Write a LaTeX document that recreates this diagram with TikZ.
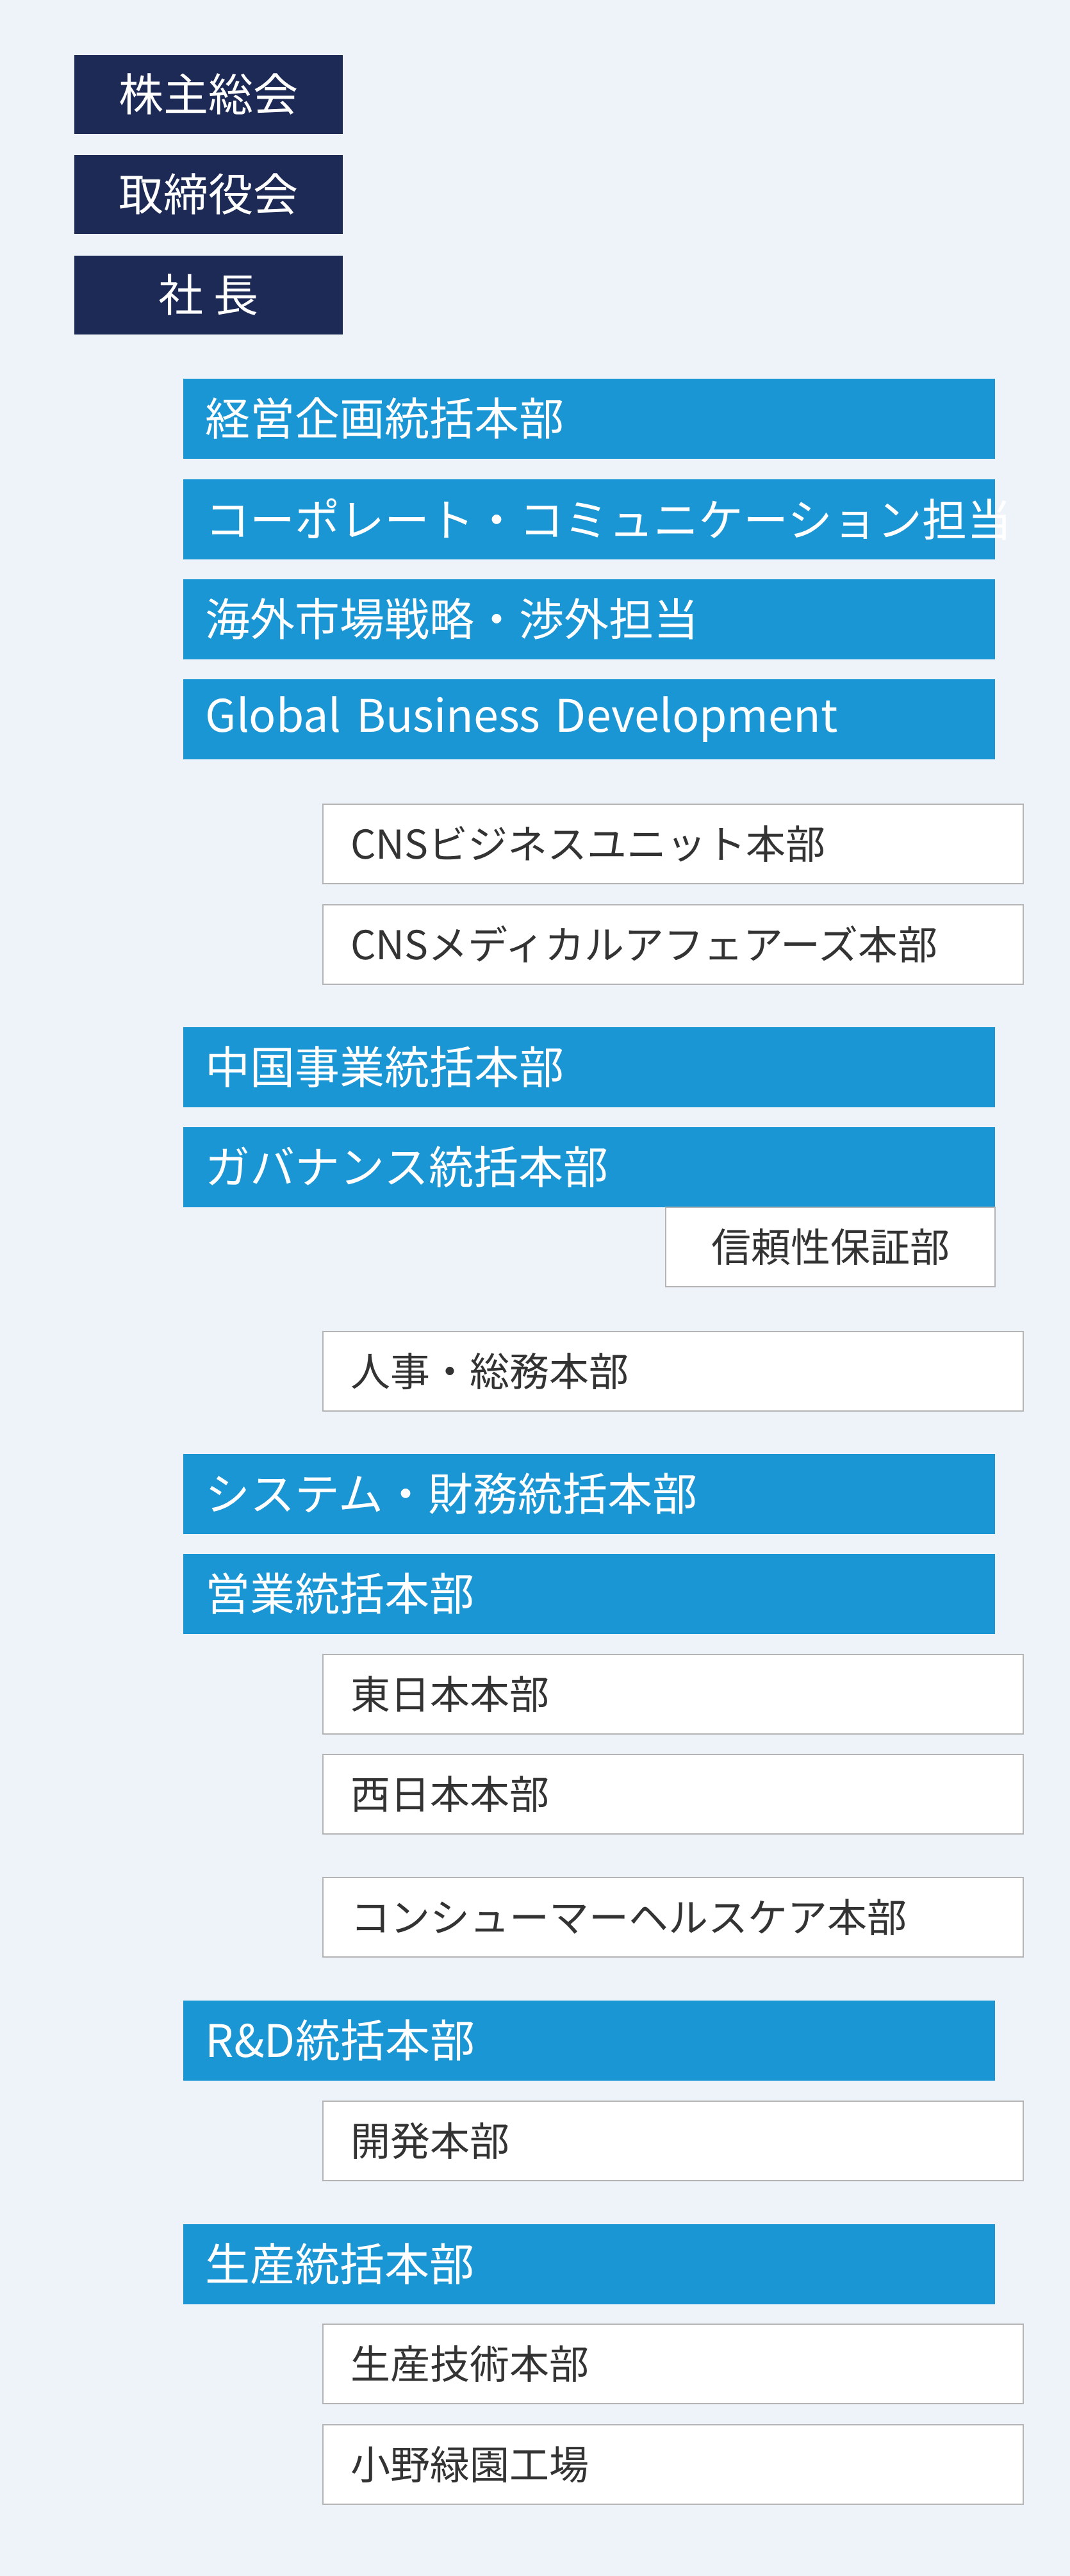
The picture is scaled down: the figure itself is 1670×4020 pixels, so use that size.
\documentclass[tikz,border=0pt]{standalone}
\usepackage{fontspec}
\setmainfont{Noto Sans CJK JP}
\usetikzlibrary{backgrounds}
\definecolor{bg}{HTML}{EEF2F9}
\definecolor{navy}{HTML}{1D2A55}
\definecolor{blu}{HTML}{1B96D4}
\definecolor{ln}{HTML}{A3B4D4}
\definecolor{bd}{HTML}{B4B4B4}
\definecolor{tx}{HTML}{333333}
\begin{document}
\begin{tikzpicture}[x=0.25pt,y=-0.25pt,
 top/.style={fill=navy,text=white,anchor=north west,minimum width=104.75pt,minimum height=30.75pt,inner sep=0pt,font=\fontsize{17.5pt}{20pt}\selectfont},
 blue/.style={fill=blu,text=white,anchor=north west,minimum height=31.25pt,text width=299.25pt,inner xsep=8.75pt,inner ysep=0pt,align=left,font=\fontsize{17.5pt}{20pt}\selectfont},
 wht/.style={fill=white,draw=bd,line width=0.5pt,text=tx,anchor=north west,minimum height=31pt,text width=251.75pt,inner xsep=10.75pt,inner ysep=0pt,align=left,font=\fontsize{15.5pt}{18pt}\selectfont},
 con/.style={draw=ln,line width=0.75pt}]
\fill[bg] (0,0) rectangle (1670,4020);
\node[top] (t1) at (115,85) {株主総会};
\node[top] (t2) at (115,241) {取締役会};
\node[top] (t3) at (115,398) {社\ 長};
\node[blue] (b1) at (285,590) {経営企画統括本部};
\node[blue] (b2) at (285,747) {コーポレート・コミュニケーション担当};
\node[blue] (b3) at (285,903) {海外市場戦略・渉外担当};
\node[blue] (b4) at (285,1059) {Global Business Development};
\node[wht] (c1) at (503,1254) {CNSビジネスユニット本部};
\node[wht] (c2) at (503,1411) {CNSメディカルアフェアーズ本部};
\node[blue] (b5) at (285,1602) {中国事業統括本部};
\node[blue] (b6) at (285,1758) {ガバナンス統括本部};
\node[wht,text width=, minimum width=128.5pt,align=center,inner xsep=0pt] (g1) at (1038,1883) {信頼性保証部};
\node[wht] (h1) at (503,2077) {人事・総務本部};
\node[blue] (b7) at (285,2268) {システム・財務統括本部};
\node[blue] (b8) at (285,2424) {営業統括本部};
\node[wht] (s1) at (503,2581) {東日本本部};
\node[wht] (s2) at (503,2737) {西日本本部};
\node[wht] (k1) at (503,2929) {コンシューマーヘルスケア本部};
\node[blue] (b9) at (285,3121) {R\&D統括本部};
\node[wht] (r1) at (503,3278) {開発本部};
\node[blue] (b10) at (285,3470) {生産統括本部};
\node[wht] (p1) at (503,3626) {生産技術本部};
\node[wht] (p2) at (503,3783) {小野緑園工場};
\coordinate (T) at (202,208);
\coordinate (C) at (392,1391);
\coordinate (S) at (392,0);
\begin{pgfonlayer}{background}
\draw[con] (T) -- (b10.west -| T) -- (b10.west);
\foreach \n in {b1,b2,b3,b4,b5,b6,b7,b8,b9,h1,k1} \draw[con] (\n.west -| T) -- (\n.west);
\draw[con] (C -| T) -- (C);
\draw[con] (c1.west) -| (C) |- (c2.west);
\draw[con] (b8.south -| S) |- (s2.west);
\draw[con] (s1.west -| S) -- (s1.west);
\draw[con] (b9.south -| S) |- (r1.west);
\draw[con] (b10.south -| S) |- (p2.west);
\draw[con] (p1.west -| S) -- (p1.west);
\end{pgfonlayer}
\end{tikzpicture}
\end{document}
